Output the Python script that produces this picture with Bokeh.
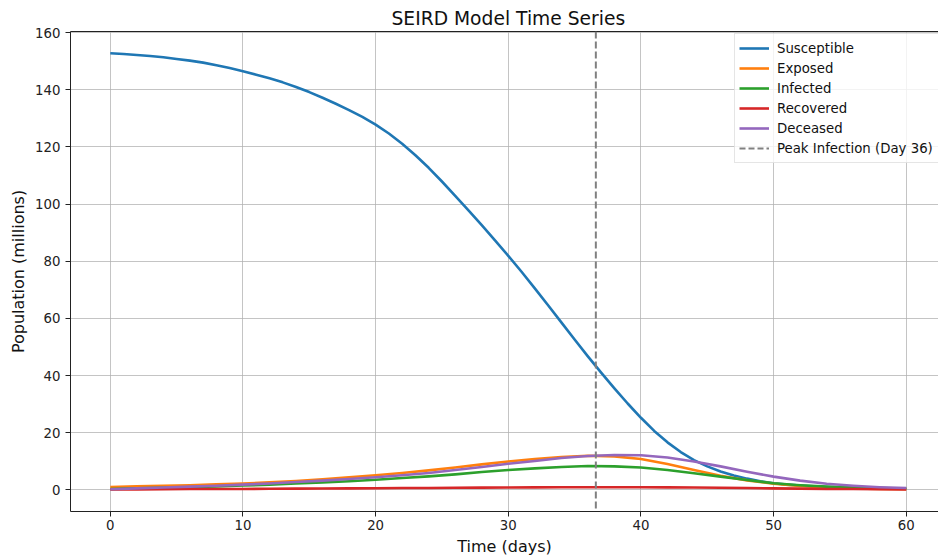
from bokeh.plotting import figure
from bokeh.models import (Range1d, LinearAxis, FixedTicker, Legend, LegendItem, Span,
                          ColumnDataSource, Grid)
from bokeh.embed import file_html
from bokeh.resources import INLINE

# ---- data ----
days_s = list(range(0, 61))
susceptible = [152.8, 152.5, 152.2, 151.8, 151.4, 150.8, 150.2, 149.5, 148.6, 147.6,
               146.5, 145.3, 144.0, 142.6, 141.0, 139.2, 137.2, 135.1, 132.9, 130.5,
               127.8, 124.7, 121.1, 117.1, 112.7, 107.9, 102.9, 97.8, 92.6, 87.3,
               81.9, 76.3, 70.5, 64.6, 58.6, 52.6, 46.7, 41.0, 35.5, 30.2,
               25.2, 20.6, 16.6, 13.2, 10.4, 8.2, 6.4, 5.0, 3.9, 3.0,
               2.3, 1.8, 1.5, 1.2, 1.0, 0.85, 0.7, 0.6, 0.5, 0.45, 0.4]
days = list(range(0, 61, 2))
exposed = [1.0, 1.2, 1.4, 1.6, 1.9, 2.2, 2.6, 3.1, 3.7, 4.4,
           5.1, 5.9, 6.8, 7.8, 8.9, 9.9, 10.8, 11.5, 11.9, 11.7,
           10.8, 9.0, 6.9, 4.9, 3.3, 2.1, 1.3, 0.8, 0.5, 0.3, 0.2]
infected = [0.3, 0.5, 0.7, 0.9, 1.2, 1.5, 1.8, 2.2, 2.6, 3.0,
            3.5, 4.1, 4.7, 5.4, 6.2, 6.9, 7.5, 8.0, 8.3, 8.2,
            7.8, 6.9, 5.8, 4.6, 3.4, 2.3, 1.6, 1.1, 0.8, 0.6, 0.4]
recovered = [0.1, 0.15, 0.2, 0.25, 0.3, 0.3, 0.35, 0.4, 0.45, 0.5,
             0.55, 0.6, 0.65, 0.7, 0.75, 0.8, 0.85, 0.9, 0.9, 0.9,
             0.9, 0.85, 0.8, 0.7, 0.6, 0.5, 0.4, 0.3, 0.25, 0.2, 0.15]
deceased = [0.2, 0.5, 0.8, 1.1, 1.4, 1.8, 2.2, 2.7, 3.2, 3.8,
            4.4, 5.1, 5.9, 6.9, 8.0, 9.1, 10.1, 11.1, 11.8, 12.2,
            12.1, 11.3, 9.9, 8.2, 6.3, 4.6, 3.2, 2.1, 1.4, 0.9, 0.6]
peak_day = 36.6
series_names = ["Susceptible", "Exposed", "Infected", "Recovered", "Deceased"]
peak_label = "Peak Infection (Day 36)"
x_ticks = [0, 10, 20, 30, 40, 50, 60]
y_ticks = [0, 20, 40, 60, 80, 100, 120, 140, 160]

colors = ["#1f77b4", "#ff7f0e", "#2ca02c", "#d62728", "#9467bd"]
FONT = "DejaVu Sans"

p = figure(frame_width=868, frame_height=480, output_backend="svg", toolbar_location=None,
           x_range=Range1d(-3, 62.43), y_range=Range1d(-7.6, 160.4),
           min_border_left=70, min_border_right=0, min_border_top=31, min_border_bottom=0,
           x_axis_location=None, y_axis_location=None)
p.outline_line_color = None
p.background_fill_color = "white"

p.title.text = "SEIRD Model Time Series"
p.title.text_font = FONT
p.title.text_font_size = "18.7px"
p.title.text_font_style = "normal"
p.title.text_color = "#111111"
p.title.align = "left"
p.title.offset = 321
p.title.standoff = 5

xaxis = LinearAxis(ticker=FixedTicker(ticks=x_ticks), axis_label="Time (days)")
yaxis = LinearAxis(ticker=FixedTicker(ticks=y_ticks), axis_label="Population (millions)")
for ax in (xaxis, yaxis):
    ax.axis_label_text_font = FONT
    ax.axis_label_text_font_size = "16px"
    ax.axis_label_text_font_style = "normal"
    ax.axis_label_text_color = "#111111"
    ax.major_label_text_font = FONT
    ax.major_label_text_font_size = "13.3px"
    ax.major_label_text_color = "#222222"
    ax.axis_line_color = "#222222"
    ax.axis_line_width = 1
    ax.major_tick_line_color = "#222222"
    ax.major_tick_in = 0
    ax.major_tick_out = 5
    ax.minor_tick_line_color = None
    ax.major_label_standoff = 3
    ax.axis_label_standoff = 4
yaxis.major_label_standoff = 5
p.add_layout(xaxis, "below")
p.add_layout(yaxis, "left")

topaxis = LinearAxis(ticker=FixedTicker(ticks=[]))
topaxis.axis_line_color = "#222222"
topaxis.major_tick_line_color = None
topaxis.minor_tick_line_color = None
topaxis.major_label_text_font_size = "0px"
topaxis.major_label_standoff = 0
topaxis.major_tick_out = 0
p.add_layout(topaxis, "above")

p.xgrid.visible = False
p.ygrid.visible = False
p.add_layout(Grid(dimension=0, ticker=xaxis.ticker, grid_line_color="#b0b0b0",
                  grid_line_alpha=0.75, grid_line_width=1))
p.add_layout(Grid(dimension=1, ticker=yaxis.ticker, grid_line_color="#b0b0b0",
                  grid_line_alpha=0.75, grid_line_width=1))

src_s = ColumnDataSource(dict(day=days_s, s=susceptible))
src = ColumnDataSource(dict(day=days, e=exposed, i=infected, r=recovered, d=deceased))
renderers = [p.line("day", "s", source=src_s, line_color=colors[0], line_width=2.6,
                    line_join="round")]
for key, col in zip(["e", "i", "r", "d"], colors[1:]):
    renderers.append(p.line("day", key, source=src, line_color=col, line_width=2.6,
                            line_join="round"))

span = Span(location=peak_day, dimension="height", line_color="#808080",
            line_dash="7 3", line_width=2)
p.add_layout(span)
proxy = p.line(x=[peak_day, peak_day], y=[float("nan"), float("nan")], line_color="#808080",
               line_dash="6 3", line_width=2)

items = [LegendItem(label=n, renderers=[r]) for n, r in zip(series_names, renderers)]
items.append(LegendItem(label=peak_label, renderers=[proxy]))
legend = Legend(items=items, location=(664, 348))
legend.label_text_font = FONT
legend.label_text_font_size = "13.3px"
legend.label_text_color = "#111111"
legend.label_width = 172
legend.glyph_width = 30
legend.glyph_height = 20
legend.label_height = 20
legend.spacing = 0
legend.padding = 4
legend.margin = 0
legend.label_standoff = 8
legend.border_line_color = "#cccccc"
legend.border_line_width = 1
legend.background_fill_color = "white"
legend.background_fill_alpha = 0.8
p.add_layout(legend, "center")

open("out.html", "w").write(file_html(p, INLINE))
